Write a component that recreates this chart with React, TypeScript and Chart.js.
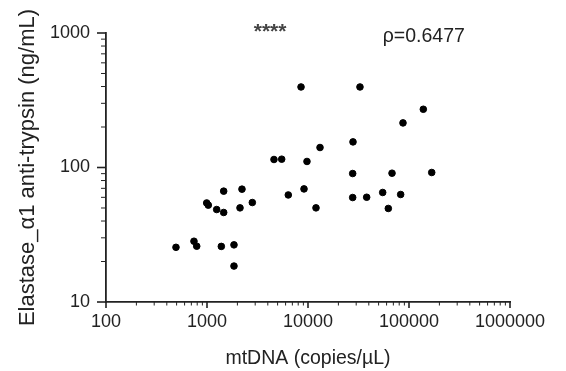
import React, { useEffect, useRef } from 'react';
import { Chart, registerables } from 'chart.js';

Chart.register(...registerables);

const mtDNA = [493, 743, 791, 993, 1030, 1247, 1463, 1463, 1386, 1850, 1850, 2220, 2122, 2810, 4604, 5490, 6380, 8530, 32700, 138600, 87200, 27900, 13150, 9770, 27700, 67900, 167900, 9130, 12000, 27700, 38100, 54900, 82700, 62400];
const elastase = [25.5, 28.3, 26.0, 54.5, 52.5, 48.7, 66.7, 46.3, 25.9, 26.6, 18.5, 69.0, 50.1, 54.9, 114.7, 115.3, 62.5, 397, 397, 271, 214.5, 155, 140.8, 110.9, 90.2, 90.7, 91.8, 69.3, 50.1, 59.8, 60.1, 65.2, 63.0, 49.6];

const xTickValues = [100, 1000, 10000, 100000, 1000000];
const yTickValues = [10, 100, 1000];

const xTitle = 'mtDNA (copies/µL)';
const yTitle = 'Elastase_α1 anti-trypsin (ng/mL)';
const starsText = '****';
const starsPos = [4210, 922];
const rhoText = 'ρ=0.6477';
const rhoPos = [55000, 854];

const FONT = '"Liberation Sans", Arial, Helvetica, sans-serif';
const INK = '#222';

function minorValues(majors: number[]) {
  const out: { v: number; major: boolean }[] = [];
  for (let i = 0; i < majors.length; i++) {
    out.push({ v: majors[i], major: true });
    if (i < majors.length - 1) {
      for (let m = 2; m <= 9; m++) out.push({ v: majors[i] * m, major: false });
    }
  }
  return out;
}

const tickPlugin = {
  id: 'customTicks',
  afterDraw(chart: any) {
    const ctx = chart.ctx;
    const xs = chart.scales.x;
    const ys = chart.scales.y;
    const area = chart.chartArea;
    ctx.save();
    ctx.strokeStyle = INK;
    for (const t of minorValues(xTickValues)) {
      const px = xs.getPixelForValue(t.v);
      ctx.lineWidth = t.major ? 1.6 : 1;
      ctx.beginPath();
      ctx.moveTo(px, area.bottom);
      ctx.lineTo(px, area.bottom + (t.major ? 6 : 3.5));
      ctx.stroke();
    }
    for (const t of minorValues(yTickValues)) {
      const py = ys.getPixelForValue(t.v);
      ctx.lineWidth = t.major ? 1.6 : 1;
      ctx.beginPath();
      ctx.moveTo(area.left, py);
      ctx.lineTo(area.left - (t.major ? 9 : 5), py);
      ctx.stroke();
    }
    ctx.textBaseline = 'alphabetic';
    ctx.fillStyle = '#444';
    ctx.font = `bold 21px ${FONT}`;
    ctx.textAlign = 'center';
    ctx.fillText(starsText, xs.getPixelForValue(starsPos[0]), ys.getPixelForValue(starsPos[1]));
    ctx.fillStyle = INK;
    ctx.font = `19.5px ${FONT}`;
    ctx.textAlign = 'left';
    ctx.fillText(rhoText, xs.getPixelForValue(rhoPos[0]), ys.getPixelForValue(rhoPos[1]));
    ctx.restore();
  },
};

export default function App() {
  const ref = useRef<HTMLCanvasElement>(null);
  useEffect(() => {
    if (!ref.current) return;
    const chart = new Chart(ref.current, {
      type: 'scatter',
      data: {
        datasets: [
          {
            data: mtDNA.map((x, i) => ({ x, y: elastase[i] })),
            backgroundColor: '#000',
            borderColor: '#000',
            pointRadius: 3.3,
            pointHoverRadius: 3.3,
          },
        ],
      },
      options: {
        responsive: false,
        devicePixelRatio: 1,
        animation: false,
        layout: { padding: { left: 0, top: 33, right: 56, bottom: 0 } },
        plugins: { legend: { display: false }, tooltip: { enabled: false } },
        scales: {
          x: {
            type: 'logarithmic',
            min: 100,
            max: 1000000,
            afterFit: (s: any) => { s.height = 69; },
            afterBuildTicks: (s: any) => { s.ticks = xTickValues.map((v) => ({ value: v, major: true })); },
            grid: { display: false, drawTicks: false },
            border: { display: true, color: INK, width: 1.8 },
            ticks: {
              autoSkip: false,
              maxRotation: 0,
              padding: 9,
              color: INK,
              font: { family: FONT, size: 18 },
              callback: (v: any) => String(v),
            },
            title: {
              display: true,
              text: xTitle,
              color: INK,
              font: { family: FONT, size: 19.5, lineHeight: 1.2 },
              padding: { top: 0, bottom: 1 },
            },
          },
          y: {
            type: 'logarithmic',
            min: 10,
            max: 1000,
            afterFit: (s: any) => { s.width = 106; },
            afterBuildTicks: (s: any) => { s.ticks = yTickValues.map((v) => ({ value: v, major: true })); },
            grid: { display: false, drawTicks: false },
            border: { display: true, color: INK, width: 1.8 },
            ticks: {
              autoSkip: false,
              padding: 16,
              color: INK,
              font: { family: FONT, size: 18 },
              callback: (v: any) => String(v),
            },
            title: {
              display: true,
              text: yTitle,
              color: INK,
              font: { family: FONT, size: 22, lineHeight: 1 },
              padding: { top: 16.5, bottom: 0 },
            },
          },
        },
      },
      plugins: [tickPlugin],
    });
    return () => chart.destroy();
  }, []);
  return (
    <div style={{ position: 'fixed', left: 0, top: 0, width: 566, height: 371, background: '#fff' }}>
      <canvas ref={ref} width={566} height={371} />
    </div>
  );
}
